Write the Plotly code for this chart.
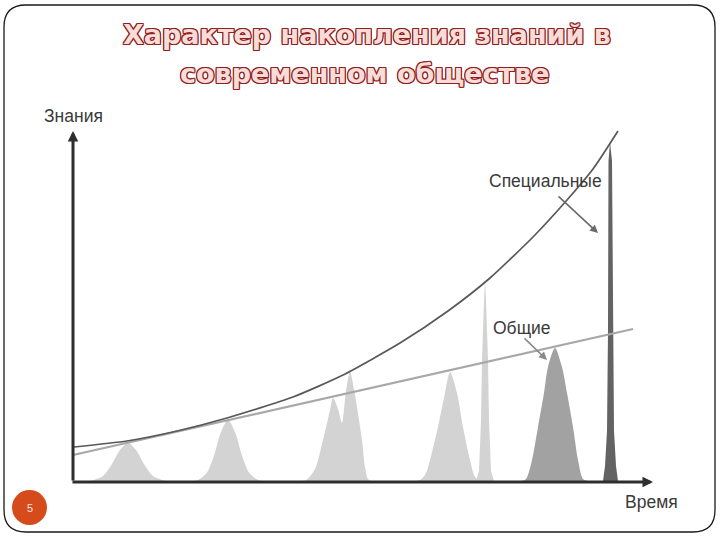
import plotly.graph_objects as go

# ---------------- data (time t, knowledge k; arbitrary units) ----------------
special_t = [1, 54, 104, 154, 220, 270, 327, 375, 417, 460, 494, 520, 545]
special_k = [34, 40, 50, 63, 84, 106, 138, 170, 203, 244, 281, 312, 350]

general_t = [0, 560]
general_k = [26, 152]

peak1_t = [15, 20, 30, 39, 47, 55, 63, 71, 80, 90, 95]
peak1_k = [0, 0.8, 5, 17, 31, 38, 31, 17, 5, 0.8, 0]

peak2_t = [120, 125, 134, 141, 148, 155, 162, 169, 176, 185, 190]
peak2_k = [0, 1, 8.6, 25.5, 49, 61, 49, 25.5, 8.6, 1, 0]

peak3_t = [228, 234, 242, 250, 257, 260, 265, 269, 273, 277, 281, 284, 289, 292, 295, 298]
peak3_k = [0, 1.5, 12, 41, 71, 83, 72, 58, 90, 109, 92, 74, 41, 14, 2, 0]

peak4_t = [343, 348, 353, 357, 365, 372, 377, 384, 390, 397, 402, 407]
peak4_k = [0, 1.5, 8, 21, 54, 88, 109, 88, 54, 21, 4, 0]

spike1_t = [403, 406, 408, 409, 411, 412, 413, 415, 416, 418, 421]
spike1_k = [0, 10, 60, 121, 180, 201, 180, 121, 60, 10, 0]

peak5_t = [448, 453, 459, 465, 471, 475, 482, 489, 494, 500, 505, 510, 515]
peak5_k = [0, 2, 21, 54, 88, 114, 133, 114, 88, 54, 21, 2, 0]

spike2_t = [530, 532, 534, 535, 535.5, 537, 539, 540, 541, 543, 545]
spike2_k = [0, 15, 50, 150, 320, 339, 320, 150, 50, 15, 0]

title_lines = ["Характер накопления знаний в", "современном обществе"]
y_label = "Знания"
x_label = "Время"
special_label = "Специальные"
general_label = "Общие"
page_number = "5"

# ---------------- figure ----------------
LIGHT = "#d3d3d3"
MEDIUM = "#a2a2a2"
DARK = "#636363"

fig = go.Figure()


def add_fill(tt, kk, color, shape="spline"):
    fig.add_trace(go.Scatter(
        x=tt, y=kk, mode="lines", fill="tozeroy", fillcolor=color,
        line=dict(width=0, color=color, shape=shape, smoothing=0.8),
        hoverinfo="skip", showlegend=False))


add_fill(peak1_t, peak1_k, LIGHT)
add_fill(peak2_t, peak2_k, LIGHT)
add_fill(peak3_t, peak3_k, LIGHT)
add_fill(peak4_t, peak4_k, LIGHT)
add_fill(spike1_t, spike1_k, LIGHT, shape="linear")
add_fill(peak5_t, peak5_k, MEDIUM)
add_fill(spike2_t, spike2_k, DARK, shape="linear")

fig.add_trace(go.Scatter(
    x=general_t, y=general_k, mode="lines",
    line=dict(color="#a8a8a8", width=2.2),
    hoverinfo="skip", showlegend=False))
fig.add_trace(go.Scatter(
    x=special_t, y=special_k, mode="lines",
    line=dict(color="#585858", width=1.7, shape="spline", smoothing=0.6),
    hoverinfo="skip", showlegend=False))

# axis arrows
axis_color = "#2e2e2e"
fig.add_annotation(x=0, y=350, ax=0, ay=-1, axref="x", ayref="y", xref="x", yref="y",
                   text="", showarrow=True, arrowhead=2, arrowsize=0.7,
                   arrowwidth=3, arrowcolor=axis_color)
fig.add_annotation(x=580, y=-1, ax=-2, ay=-1, axref="x", ayref="y", xref="x", yref="y",
                   text="", showarrow=True, arrowhead=2, arrowsize=0.7,
                   arrowwidth=3, arrowcolor=axis_color)

# pointer arrows
fig.add_annotation(x=525, y=248, ax=484, ay=286, axref="x", ayref="y",
                   text="", showarrow=True, arrowhead=2, arrowsize=1.0,
                   arrowwidth=1.6, arrowcolor="#6a6a6a")
fig.add_annotation(x=474, y=121, ax=450, ay=144, axref="x", ayref="y",
                   text="", showarrow=True, arrowhead=2, arrowsize=1.0,
                   arrowwidth=1.6, arrowcolor="#8a8a8a")

label_font = dict(family="Liberation Sans, Arial, sans-serif", size=17.5, color="#3a3a3a")
fig.add_annotation(x=472, y=300, text=special_label, showarrow=False, font=label_font)
fig.add_annotation(x=449, y=153, text=general_label, showarrow=False, font=label_font)
fig.add_annotation(x=0, y=365, text=y_label, showarrow=False, font=label_font)
fig.add_annotation(x=578, y=-21, text=x_label, showarrow=False, font=label_font)

# title with outline
outline = "#8e2020"
shadow = ", ".join(f"{dx}px {dy}px 0 {outline}" for dx, dy in
                   [(-1, -1), (1, -1), (-1, 1), (1, 1), (0, 1), (0, -1), (1, 0), (-1, 0)])
title_font = dict(family="DejaVu Sans, Verdana, sans-serif", size=27,
                  color="#f7dcd7", weight="bold", shadow=shadow)
fig.add_annotation(x=294, y=447, text=title_lines[0], showarrow=False, font=title_font)
fig.add_annotation(x=292, y=408, text=title_lines[1], showarrow=False, font=title_font)

# page number badge
fig.add_shape(type="circle", xref="x", yref="y", x0=-61, x1=-26, y0=-44, y1=-9,
              fillcolor="#d64b1c", line=dict(width=0))
fig.add_annotation(x=-43.5, y=-26.5, text=page_number, showarrow=False,
                   font=dict(family="Liberation Sans, Arial", size=11, color="#f4e6e0"))

# slide frame (rounded rectangle)
x0, x1, yb, yt, r = -69, 642, -51, 476, 22
path = (f"M {x0 + r},{yt} L {x1 - r},{yt} Q {x1},{yt} {x1},{yt - r} "
        f"L {x1},{yb + r} Q {x1},{yb} {x1 - r},{yb} L {x0 + r},{yb} "
        f"Q {x0},{yb} {x0},{yb + r} L {x0},{yt - r} Q {x0},{yt} {x0 + r},{yt} Z")
fig.add_shape(type="path", path=path, xref="x", yref="y",
              line=dict(color="#1a1a1a", width=1.3), layer="below")

fig.update_layout(
    width=720, height=540,
    margin=dict(l=0, r=0, t=0, b=0),
    paper_bgcolor="white", plot_bgcolor="white",
    xaxis=dict(range=[-73, 647], visible=False, fixedrange=True),
    yaxis=dict(range=[-59, 481], visible=False, fixedrange=True),
    showlegend=False,
)

fig.write_html("out.html", config={"displayModeBar": False},
               post_script="document.body.style.margin='0';document.body.style.overflow='hidden';")
